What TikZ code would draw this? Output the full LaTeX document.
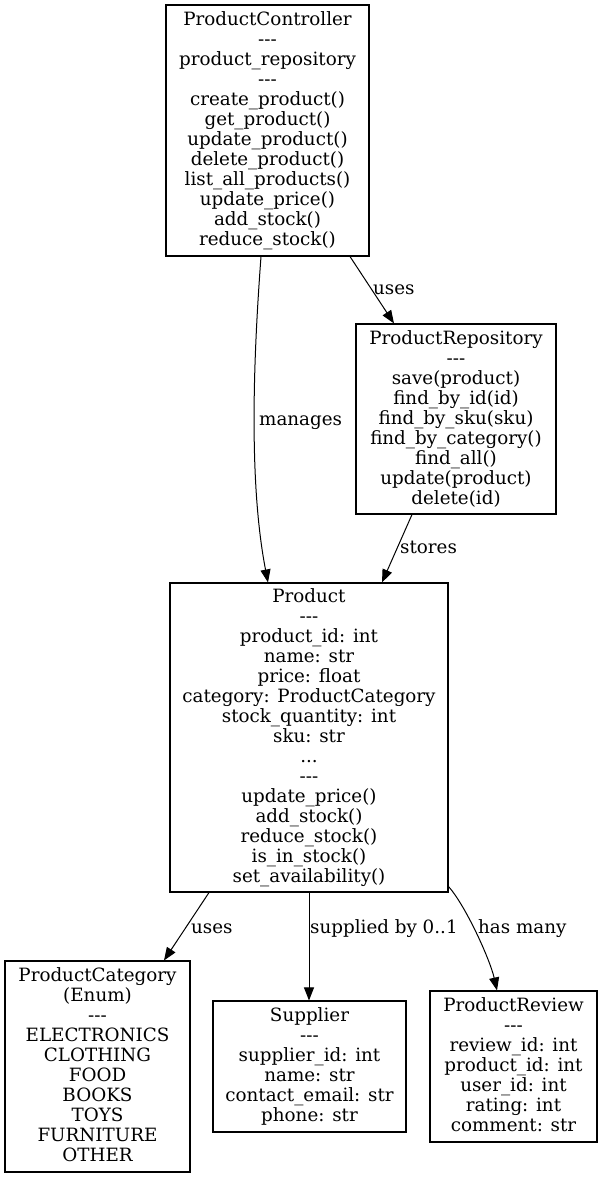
\documentclass[tikz,border=0pt]{standalone}
\usepackage{fontspec}
\newfontfamily\gvfont{DejaVu Serif}
\usetikzlibrary{arrows.meta}
\newcommand{\gstrut}{\rule[-5pt]{0pt}{20pt}}
\newcommand{\dsh}{-\kern0pt-\kern0pt-}
\begin{document}
\begin{tikzpicture}[x=1pt,y=-1pt,
  box/.style={draw, line width=1.1pt, inner sep=0pt, align=center, font=\gvfont\fontsize{18.3}{20}\selectfont},
  lbl/.style={inner sep=0pt, anchor=base west, font=\gvfont\fontsize{18.3}{20}\selectfont},
  conn/.style={line width=1pt, -{Triangle[length=13pt,width=10pt]}}]
\useasboundingbox (0,0) rectangle (602,1177);
\fill[white] (0,0) rectangle (602,1177);

\node[box, minimum width=203pt, minimum height=251pt] (pc) at (267.5,130.5)
  {\gstrut ProductController\\\dsh\\product\_repository\\\dsh\\create\_product()\\get\_product()\\update\_product()\\delete\_product()\\list\_all\_products()\\update\_price()\\add\_stock()\\reduce\_stock()\gstrut};

\node[box, minimum width=200pt, minimum height=190pt] (pr) at (456,419)
  {\gstrut ProductRepository\\\dsh\\save(product)\\find\_by\_id(id)\\find\_by\_sku(sku)\\find\_by\_category()\\find\_all()\\update(product)\\delete(id)\gstrut};

\node[box, minimum width=278pt, minimum height=309pt] (prod) at (309,737.5)
  {\gstrut Product\\\dsh\\product\_id: int\\name: str\\price: float\\category: ProductCategory\\stock\_quantity: int\\sku: str\\...\\\dsh\\update\_price()\\add\_stock()\\reduce\_stock()\\is\_in\_stock()\\set\_availability()\gstrut};

\node[box, minimum width=185pt, minimum height=211pt] (cat) at (97.5,1066.5)
  {\gstrut ProductCategory\\(Enum)\\\dsh\\ELECTRONICS\\CLOTHING\\FOOD\\BOOKS\\TOYS\\FURNITURE\\OTHER\gstrut};

\node[box, minimum width=193pt, minimum height=131pt] (sup) at (309.5,1066.5)
  {\gstrut Supplier\\\dsh\\supplier\_id: int\\name: str\\contact\_email: str\\phone: str\gstrut};

\node[box, minimum width=167pt, minimum height=151pt] (rev) at (513.5,1066.5)
  {\gstrut ProductReview\\\dsh\\review\_id: int\\product\_id: int\\user\_id: int\\rating: int\\comment: str\gstrut};

\draw[conn] ([xshift=-6.5pt]pc.south) .. controls +(-7,94) and +(-20,-103) .. ([xshift=-41pt]prod.north);
\draw[conn] ([xshift=82.5pt]pc.south) -- ([xshift=-62pt]pr.north);
\draw[conn] ([xshift=-44pt]pr.south) -- ([xshift=73pt]prod.north);
\draw[conn] ([xshift=-100pt]prod.south) -- ([xshift=66.5pt]cat.north);
\draw[conn] (prod.south) -- (prod.south |- sup.north);
\draw[conn] ([yshift=6pt]prod.south east) .. controls +(17,19) and +(-7,-31) .. ([xshift=-16.5pt]rev.north);

\node[lbl] (lmanages) at (259,425) {manages};
\node[lbl] (luses1) at (373,294) {uses};
\node[lbl] (lstores) at (400,553) {stores};
\node[lbl] (luses2) at (191,933) {uses};
\node[lbl] (lsup) at (310,933) {supplied by 0..1};
\node[lbl] (lhas) at (478,933) {has many};
\end{tikzpicture}
\end{document}
